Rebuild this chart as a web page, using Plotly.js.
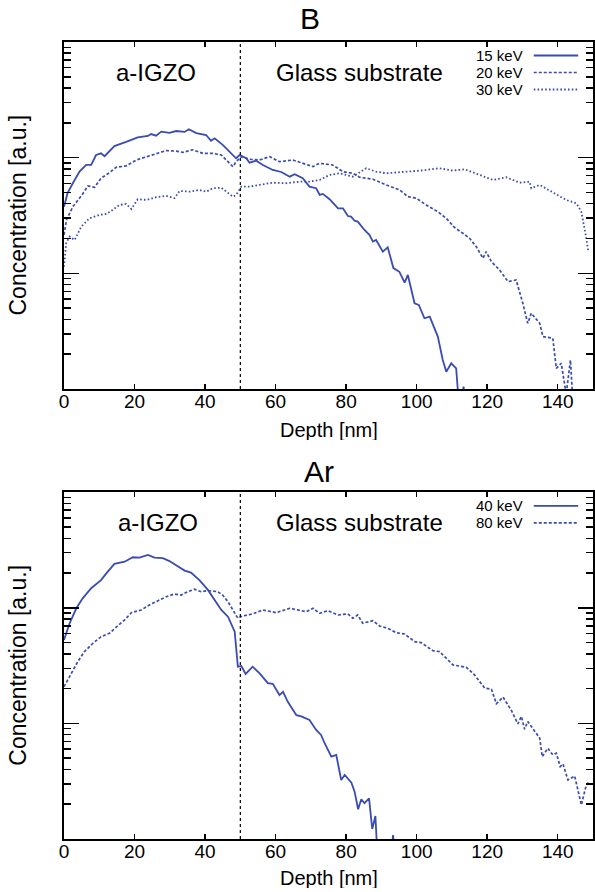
<!DOCTYPE html>
<html>
<head>
<meta charset="utf-8">
<script src="https://cdn.plot.ly/plotly-3.0.1.min.js"></script>
<style>
  html, body { margin: 0; padding: 0; background: #fff; }
  #chart { width: 595px; height: 892px; }
</style>
</head>
<body>
<div id="chart"></div>
<script>
// Implantation depth profiles (arbitrary units) in a-IGZO on glass.

// Boron, 15 keV
const b15Depth = [0,1,2.5,4.4,6.3,7.7,9.1,10.5,11.5,14.3,17.6,20.9,23.8,24.7,26.1,27.6,29.9,31.8,34.2,35.4,37.5,40.3,41.7,42.7,45,47.4,48.8,49.8,51.7,52.6,54.5,56.4,59.2,61.6,64,65.4,67.7,69.6,71.5,72.5,73.4,75.3,77.7,79.1,80.5,81.4,82.4,83.3,85.2,86.6,87.6,88.5,90.4,91.8,93.4,95.1,96.6,97.5,99.4,100.6,102.2,103.7,106,107.4,108.4,109.8,111.2,112.2,113.3,114.3];
const b15Conc = [37.7,49.3,60.1,75.7,86.5,86.5,105.5,109,103,126,137,150,154,160,155,168,164,170,167,176,163,157,140,147,129,109,98.8,105.5,98.8,90.5,94.2,86.5,78.3,75.2,68.5,71.9,66.4,56.2,54.4,47.6,48.6,43.7,36.5,36.5,31.3,30.9,28.5,28.0,23.7,21.5,18.8,19.4,15.4,16.8,11.1,10.3,8.31,9.69,5.51,5.33,4.09,4.22,2.84,1.78,1.41,1.67,1.51,0.6,1.05,0.6];

// Boron, 20 keV
const b20Depth = [0,0.7,2.5,4.9,6.8,8.7,10.5,12.9,14.8,17.6,20.5,23.8,27.1,29,31.8,33.7,36.5,39.4,42.2,44.6,46,47.9,48.8,50.3,52.6,55.4,58.3,61.1,64.9,67.7,70.6,72.4,76.2,79.1,81.9,83.8,87.6,91.4,95.2,97.5,99.9,102.7,106,108.4,110.7,113.1,115,116.9,118.8,119.7,121.2,123.5,125.9,128.2,130.1,131.5,132.5,134.9,135.8,138.6,139.6,141,142.4,143.6,144.5];
const b20Conc = [21.5,28.9,37.7,46.7,56.9,55.5,66.4,74.2,82.6,84.8,95.5,102,110.5,115,114,111,117,109,109,105.5,95.5,83.6,92.3,102,96.9,95.5,102,92.3,95.5,89.4,83.6,89.4,86.5,75.7,73.3,67.7,65.1,58.1,52.6,46.0,44.6,39.0,34.1,29.9,25.0,22.2,20.1,17.0,13.5,15.4,12.6,10.7,8.48,8.77,5.51,3.70,4.52,3.70,2.84,2.75,1.51,1.67,0.9,1.78,0.6];

// Boron, 30 keV
const b30Depth = [0,0.6,1.6,3,4.9,7.2,10.1,12,13.8,15.7,17.6,19.1,20.9,23.3,26.1,29,31.3,32.8,35.6,38.4,40.3,42.2,44.6,46,47.9,48.8,50.3,52.6,55.4,59.2,63,66.8,69.6,72.5,75.3,78.1,81.9,85.7,88.5,91.4,97.1,100.8,106.5,110.3,113.6,117.8,121.6,125.4,129.2,132,132.5,134.9,138.6,142.4,145.3,146.7,148.1,148.6];
const b30Conc = [11.4,18.2,20.8,19.4,25.3,29.9,32.0,32.6,35.3,39.0,39.8,36.0,43.7,43.1,45.5,46.7,44.6,51.6,50.8,52.6,50.8,54.4,55.0,50.8,46.0,47.6,56.2,56.2,58.1,60.8,60.1,62.0,62.0,64.2,70.9,73.3,68.5,81.0,75.7,73.3,75.7,77.2,81.0,77.2,79.4,70.9,64.2,67.7,60.8,62.0,54.4,58.1,49.8,43.1,40.3,34.1,20.1,15.9];

// Argon, 40 keV
const ar40Depth = [0,1.6,3.5,5.3,7.7,10.5,12,14.3,17.2,19.5,21.4,23.8,25.7,28,29.9,31.8,34.2,36,38.4,40.8,42.7,44.6,46.5,48.4,49.3,50.3,51.5,53.5,55.4,57.8,59.2,61.1,62.1,63.5,65.9,67.3,69.6,71.5,72.9,73.9,75.8,77.2,78.6,79.6,81.5,82.4,83.4,84.3,85.2,86.5,87.4,88.3,89,92.5,93.3,94.2];
const ar40Conc = [52.8,73.6,99.2,121,148,174,199,240,251,274,272,287,272,269,254,235,210,202,174,143,117,95.9,83.9,62.2,31.0,31.4,26.8,31.0,27.2,22.3,22.0,17.6,18.8,15.3,11.8,11.5,10.7,8.79,7.95,6.74,5.16,5.34,3.24,3.58,3.07,2.57,1.81,2.21,2.04,2.25,1.22,1.58,0.6,0.6,1.08,0.6];

// Argon, 80 keV
const ar80Depth = [0,2,3.9,5.8,8.2,10.5,12.9,14.8,17.2,19.1,21.9,24.2,27.1,29,31.3,33.2,35.1,37,38.9,40.8,43.6,45,46.5,47.9,49.3,50.7,53.5,56.4,60.2,64,68.7,70.6,72.5,74.8,77.7,80.5,81.9,83.3,84.7,87.6,89.5,91.8,94.2,96.6,99.4,101.3,104.6,106.5,110.3,114.1,116.4,119.3,121.2,122.6,124.5,126.9,128.7,129.7,130.6,131.5,134.9,135.6,137.2,138.6,139.6,140.7,141.5,142.9,144.8,146.7,148.1,149];
const ar80Conc = [20.8,27.2,34.2,41.8,49.4,56.3,60.3,68.0,78.6,90.9,95.9,106,117,125,132,129,138,145,138,141,138,129,113,95.9,81.3,85.1,88.6,95.9,90.9,99.2,92.7,99.2,89.8,94.6,86.8,88.6,81.3,86.8,73.6,77.5,69.7,66.6,61.0,59.4,51.0,50.0,42.6,41.8,32.1,30.6,26.3,20.2,19.8,14.8,16.9,12.9,9.9,11.5,8.91,10.4,7.45,5.16,6.10,5.34,5.52,4.23,4.46,3.24,3.51,1.97,2.94,3.14];

const panelTitles = ['B', 'Ar'];
const boronLabels = ['15 keV', '20 keV', '30 keV'];
const argonLabels = ['40 keV', '80 keV'];
const layerLabels = ['a-IGZO', 'Glass substrate'];
const interfaceDepth = 50;
const xTitle = 'Depth [nm]';
const yTitle = 'Concentration [a.u.]';

const FONT = 'Liberation Sans, Arial, Helvetica, sans-serif';
const BLUE = 'rgb(58,76,176)';
const dashes = ['solid', '3px,2px', '1.6px,2.2px'];
const widths = [1.8, 1.7, 1.8];

function trace(x, y, i, xa, ya, name) {
  return {
    x: x, y: y, name: name, type: 'scatter', mode: 'lines',
    xaxis: xa, yaxis: ya, showlegend: false, cliponaxis: true,
    line: { color: BLUE, width: widths[i], dash: dashes[i] }
  };
}

const data = [
  trace(b15Depth, b15Conc, 0, 'x', 'y', boronLabels[0]),
  trace(b20Depth, b20Conc, 1, 'x', 'y', boronLabels[1]),
  trace(b30Depth, b30Conc, 2, 'x', 'y', boronLabels[2]),
  trace(ar40Depth, ar40Conc, 0, 'x2', 'y2', argonLabels[0]),
  trace(ar80Depth, ar80Conc, 1, 'x2', 'y2', argonLabels[1])
];

function xAxis(anchor) {
  return {
    anchor: anchor, domain: [0, 1], range: [0, 150], dtick: 20, tick0: 0,
    ticks: 'inside', ticklen: 5, tickwidth: 1.5, tickcolor: '#000',
    showline: true, linewidth: 2, linecolor: '#000', mirror: 'ticks',
    showgrid: false, zeroline: false, ticklabelstandoff: -6,
    tickfont: { family: FONT, size: 19, color: '#000' }
  };
}
function yAxis(anchor, domain) {
  return {
    anchor: anchor, domain: domain, type: 'log', range: [0, 3], dtick: 1,
    ticks: 'inside', ticklen: 15, tickwidth: 1.5, tickcolor: '#000',
    showticklabels: false,
    minor: { ticks: 'inside', ticklen: 7, tickwidth: 1.5, tickcolor: '#000', dtick: 'D1', showgrid: false },
    showline: true, linewidth: 2, linecolor: '#000', mirror: 'ticks',
    showgrid: false, zeroline: false
  };
}

const topDomain = [0.5646, 1];
const botDomain = [0, 0.435];

const annotations = [];
function txt(text, x, y, size, opts) {
  annotations.push(Object.assign({
    text: text, x: x, y: y, xref: 'paper', yref: 'paper', showarrow: false,
    xanchor: 'center', yanchor: 'middle', font: { family: FONT, size: size, color: '#000' }
  }, opts || {}));
}

// panel titles
txt(panelTitles[0], 0.465, 1.030, 30);
txt(panelTitles[1], 0.482, 0.4617, 30);
// layer labels
txt(layerLabels[0], 0.174, 0.9615, 24);
txt(layerLabels[1], 0.5586, 0.9615, 24);
txt(layerLabels[0], 0.177, 0.3969, 24);
txt(layerLabels[1], 0.5586, 0.3969, 24);
// axis titles
txt(xTitle, 0.5, (839 - 430) / 797, 20, { height: 20 });
txt(xTitle, 0.5, (839 - 878) / 797, 20, { height: 20 });
txt(yTitle, (18 - 64) / 529, 0.7823, 23, { textangle: -90 });
txt(yTitle, (18 - 64) / 529, 0.2175, 23, { textangle: -90 });

const shapes = [];
// layer interface
[['x', 'y domain'], ['x2', 'y2 domain']].forEach(function (r) {
  shapes.push({ type: 'line', xref: r[0], yref: r[1], x0: interfaceDepth, x1: interfaceDepth, y0: 0, y1: 1,
    line: { color: '#000', width: 1.2, dash: '3px,3px' } });
});

// key: label on the left, line sample on the right
const keyRows = [0.9611, 0.9121, 0.8631];
function key(labels, xr, yr) {
  labels.forEach(function (lab, i) {
    annotations.push({ text: lab, xref: xr, yref: yr, x: 0.871, y: keyRows[i], showarrow: false,
      xanchor: 'right', yanchor: 'middle', height: 15,
      font: { family: FONT, size: 15, color: '#000' } });
    shapes.push({ type: 'line', xref: xr, yref: yr, x0: 0.888, x1: 0.972, y0: keyRows[i], y1: keyRows[i],
      line: { color: BLUE, width: widths[i], dash: dashes[i] } });
  });
}
key(boronLabels, 'x domain', 'y domain');
key(argonLabels, 'x2 domain', 'y2 domain');

const layout = {
  width: 595, height: 892,
  margin: { l: 64, r: 2, t: 42, b: 53 },
  paper_bgcolor: '#fff', plot_bgcolor: '#fff',
  showlegend: false,
  xaxis: xAxis('y'), yaxis: yAxis('x', topDomain),
  xaxis2: xAxis('y2'), yaxis2: yAxis('x2', botDomain),
  annotations: annotations, shapes: shapes
};

Plotly.newPlot('chart', data, layout, { staticPlot: true, displayModeBar: false });
</script>
</body>
</html>
